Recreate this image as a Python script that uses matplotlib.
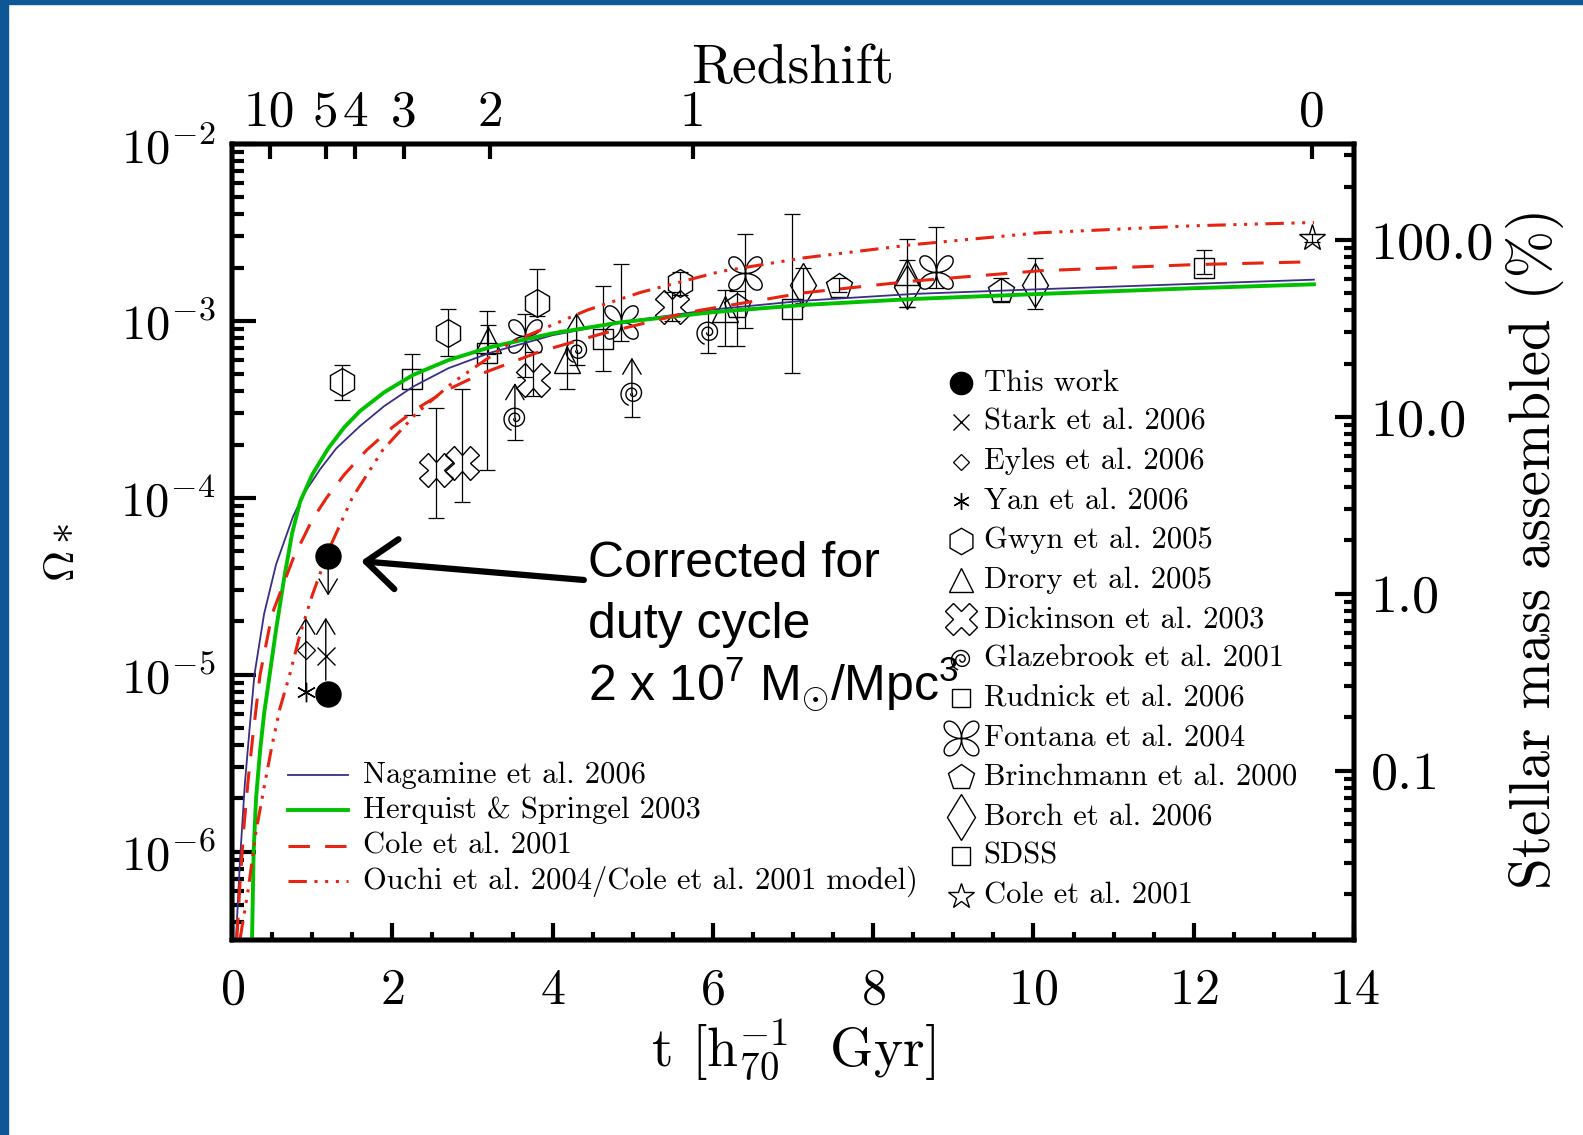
import numpy as np
import matplotlib
matplotlib.use('Agg')
import matplotlib.pyplot as plt
from matplotlib.path import Path
from matplotlib.patches import Rectangle
from matplotlib.ticker import FixedLocator, FixedFormatter, NullFormatter, LogLocator

plt.rcParams['font.family'] = ['cmr10', 'DejaVu Serif']
plt.rcParams['mathtext.fontset'] = 'cm'
plt.rcParams['axes.formatter.use_mathtext'] = True
plt.rcParams['mathtext.rm'] = 'Liberation Sans'
plt.rcParams['mathtext.it'] = 'Liberation Sans:italic'
plt.rcParams['mathtext.bf'] = 'Liberation Sans:bold'

# ---- model curves (t in Gyr, Omega_*) ----
t_nag = [0.05, 0.1, 0.16, 0.22, 0.28, 0.4, 0.55, 0.76, 0.9, 1.1, 1.3, 1.6, 1.9, 2.26, 2.7, 3.22, 4.0, 4.84,
         6.0, 7.13, 8.5, 10.08, 12.0, 13.5]
om_nag = [3.2e-7, 9e-7, 2.4e-6, 5e-6, 1e-5, 2.2e-5, 4.2e-5, 7.8e-5, 1.06e-4, 1.45e-4, 1.9e-4, 2.55e-4, 3.3e-4,
          4.25e-4, 5.4e-4, 6.6e-4, 8.3e-4, 9.8e-4, 1.16e-3, 1.30e-3, 1.42e-3, 1.51e-3, 1.62e-3, 1.71e-3]
t_hs = [0.25, 0.27, 0.3, 0.35, 0.4, 0.47, 0.55, 0.65, 0.75, 0.85, 1.0, 1.2, 1.4, 1.6, 1.9, 2.26, 2.7, 3.22, 4.0,
        4.84, 6.0, 7.13, 8.5, 10.08, 12.0, 13.5]
om_hs = [3.2e-7, 1e-6, 2e-6, 3.7e-6, 6e-6, 1e-5, 1.8e-5, 3.5e-5, 6.3e-5, 9.5e-5, 1.35e-4, 1.9e-4, 2.5e-4,
         3.1e-4, 3.95e-4, 4.95e-4, 6.0e-4, 7.1e-4, 8.5e-4, 9.8e-4, 1.12e-3, 1.23e-3, 1.33e-3, 1.42e-3,
         1.53e-3, 1.61e-3]
t_cole = [0.06, 0.1, 0.15, 0.2, 0.26, 0.35, 0.5, 0.76, 1.0, 1.18, 1.4, 1.68, 2.0, 2.31, 2.7, 3.1, 3.84, 4.63,
          5.7, 7.13, 8.5, 10.08, 12.0, 13.5]
om_cole = [3.2e-7, 6.6e-7, 1.4e-6, 2.5e-6, 4.5e-6, 1e-5, 2.2e-5, 4.5e-5, 7.5e-5, 1e-4, 1.35e-4, 1.86e-4,
           2.5e-4, 3.2e-4, 4.1e-4, 5.0e-4, 6.7e-4, 8.5e-4, 1.12e-3, 1.44e-3, 1.68e-3, 1.92e-3, 2.08e-3,
           2.16e-3]
t_ouchi = [0.1, 0.2, 0.3, 0.4, 0.5, 0.6, 0.72, 0.85, 1.0, 1.2, 1.5, 1.88, 2.3, 2.76, 3.47, 4.43, 5.1, 6.09,
           7.13, 8.5, 10.08, 12.0, 13.5]
om_ouchi = [3.2e-7, 6e-7, 1.3e-6, 2.3e-6, 4e-6, 6.5e-6, 1e-5, 1.7e-5, 2.8e-5, 5e-5, 1e-4, 1.86e-4, 3e-4,
            4.5e-4, 7.5e-4, 1.15e-3, 1.45e-3, 1.9e-3, 2.27e-3, 2.7e-3, 3.15e-3, 3.45e-3, 3.6e-3]

# ---- observations ----
this_t = [1.2, 1.2]
this_om = [4.67e-5, 7.8e-6]
this_lim = [2.8e-5, None]          # upper limit arrow on the first point

stark_t = [1.17]
stark_om = [1.28e-5]
stark_lo = [9.3e-6]
stark_lim = [2.1e-5]

eyles_t = [0.92]
eyles_om = [1.38e-5]

yan_t = [0.92]
yan_om = [8.0e-6]
yan_lim = [2.1e-5]

gwyn_t = [1.37, 2.69, 3.80, 5.59]
gwyn_om = [4.54e-4, 8.5e-4, 1.26e-3, 1.64e-3]
gwyn_lo = [3.55e-4, 6.3e-4, 1.06e-3, 1.40e-3]
gwyn_hi = [5.6e-4, 1.16e-3, 1.96e-3, 1.88e-3]

drory_t = [3.2, 4.18, 6.15, 8.42]
drory_om = [7.8e-4, 6.0e-4, 1.16e-3, 1.9e-3]
drory_lo = [6.5e-4, 4.1e-4, 7.2e-4, 1.2e-3]
drory_hi = [9.5e-4, 8.9e-4, 1.49e-3, 2.9e-3]

dick_t = [2.55, 2.87, 3.76, 5.49]
dick_om = [1.43e-4, 1.57e-4, 4.65e-4, 1.2e-3]
dick_lo = [7.7e-5, 9.5e-5, 3.77e-4, 1.0e-3]
dick_hi = [3.2e-4, 4.1e-4, 6.7e-4, 1.45e-3]

glaz_t = [3.53, 4.3, 4.99, 5.94]
glaz_om = [2.82e-4, 6.85e-4, 3.9e-4, 8.7e-4]
glaz_lo = [2.12e-4, 5.6e-4, 2.85e-4, 6.6e-4]
glaz_hi = [4.45e-4, 1.11e-3, 6.2e-4, 1.16e-3]
glaz_lolim = [True, True, True, False]

rud_t = [2.25, 3.18, 4.63, 6.99]
rud_om = [4.68e-4, 6.6e-4, 7.9e-4, 1.16e-3]
rud_lo = [2.94e-4, 1.44e-4, 5.2e-4, 5.1e-4]
rud_hi = [6.5e-4, 1.13e-3, 1.58e-3, 4.0e-3]

font_t = [3.66, 4.86, 6.4, 8.78]
font_om = [8.2e-4, 9.9e-4, 1.86e-3, 1.9e-3]
font_lo = [4.8e-4, 7.7e-4, 9.1e-4, 1.53e-3]
font_hi = [1.1e-3, 2.1e-3, 3.1e-3, 3.4e-3]

brin_t = [6.3, 7.58, 9.6]
brin_om = [1.21e-3, 1.57e-3, 1.47e-3]
brin_lo = [7.2e-4, 1.45e-3, 1.3e-3]
brin_hi = [1.47e-3, 1.75e-3, 1.75e-3]

borch_t = [7.13, 8.42, 10.02]
borch_om = [1.6e-3, 1.55e-3, 1.6e-3]
borch_lo = [1.26e-3, 1.2e-3, 1.16e-3]
borch_hi = [1.99e-3, 2.2e-3, 2.27e-3]

sdss_t = [12.13]
sdss_om = [1.98e-3]
sdss_lo = [1.85e-3]
sdss_hi = [2.5e-3]

cole_t = [13.48]
cole_om = [2.94e-3]
cole_lo = [2.8e-3]
cole_hi = [3.1e-3]

# redshift axis
z_labels = ['10', '5', '4', '3', '2', '1', '0']
t_at_z = [0.47, 1.17, 1.54, 2.14, 3.22, 5.75, 13.47]

# right axis: percentage of present-day stellar mass
omega_today = 2.87e-3
pct_ticks = [0.1, 1.0, 10.0, 100.0]
pct_labels = ['0.1', '1.0', '10.0', '100.0']

# ---- custom marker shapes ----
th = np.linspace(0, 4.4 * np.pi, 160)
r = 0.15 + th / (4.4 * np.pi)
spiral = Path(np.column_stack([r * np.cos(th + np.pi), r * np.sin(th + np.pi)]))
th2 = np.linspace(0, 2 * np.pi, 240)
r2 = np.abs(np.sin(2 * th2))
rose = Path(np.column_stack([r2 * np.cos(th2), r2 * np.sin(th2)]))

styles = {
    'this': dict(marker='o', ms=18, mfc='k', mec='k'),
    'stark': dict(marker='x', ms=13, mfc='none', mec='k', mew=1.0),
    'eyles': dict(marker='D', ms=9, mfc='none', mec='k', mew=0.9),
    'yan': dict(marker=(6, 2, 0), ms=14, mfc='none', mec='k', mew=1.0),
    'gwyn': dict(marker='h', ms=20, mfc='none', mec='k', mew=1.0),
    'drory': dict(marker='^', ms=19, mfc='none', mec='k', mew=1.0),
    'dick': dict(marker='X', ms=24, mfc='none', mec='k', mew=1.0),
    'glaz': dict(marker=spiral, ms=17, mfc='none', mec='k', mew=1.0),
    'rud': dict(marker='s', ms=15, mfc='none', mec='k', mew=1.0),
    'font': dict(marker=rose, ms=24, mfc='none', mec='k', mew=1.0),
    'brin': dict(marker='p', ms=19, mfc='none', mec='k', mew=1.0),
    'borch': dict(marker='d', ms=22, mfc='none', mec='k', mew=1.0),
    'sdss': dict(marker='s', ms=15, mfc='none', mec='k', mew=1.0),
    'cole': dict(marker='*', ms=20, mfc='none', mec='k', mew=1.0),
}

fig = plt.figure(figsize=(15.83, 11.35), dpi=100)
fig.patch.set_facecolor('white')
ax = fig.add_axes([0.14656, 0.17181, 0.70878, 0.70132])

ax.set_yscale('log')
ax.set_xlim(0, 14)
ax.set_ylim(10 ** -6.5, 1e-2)

# model curves
ax.plot(t_nag, om_nag, color='#3a2d85', lw=1.3, zorder=4)
ax.plot(t_hs, om_hs, color='#00c000', lw=2.8, zorder=4)
ax.plot(t_cole, om_cole, color='#e8230f', lw=2.2, ls=(0, (7, 5)), zorder=4)
ax.plot(t_ouchi, om_ouchi, color='#e8230f', lw=2.2, ls=(0, (6, 2.5, 1, 2.5, 1, 2.5, 1, 2.5)), zorder=4)


def errs(t, om, lo, hi, key):
    om = np.array(om)
    yerr = [om - np.array(lo), np.array(hi) - om]
    ax.errorbar(t, om, yerr=yerr, fmt='none', ecolor='k', elinewidth=0.9, capsize=6, capthick=0.9, zorder=3)
    ax.plot(t, om, ls='none', zorder=3, **styles[key])


errs(gwyn_t, gwyn_om, gwyn_lo, gwyn_hi, 'gwyn')
errs(drory_t, drory_om, drory_lo, drory_hi, 'drory')
errs(dick_t, dick_om, dick_lo, dick_hi, 'dick')
errs(rud_t, rud_om, rud_lo, rud_hi, 'rud')
errs(font_t, font_om, font_lo, font_hi, 'font')
errs(brin_t, brin_om, brin_lo, brin_hi, 'brin')
errs(borch_t, borch_om, borch_lo, borch_hi, 'borch')
errs(sdss_t, sdss_om, sdss_lo, sdss_hi, 'sdss')
errs(cole_t, cole_om, cole_lo, cole_hi, 'cole')

arrow_kw = dict(arrowstyle='->,head_length=0.5,head_width=0.3', color='k', lw=1.0,
                mutation_scale=22, shrinkA=0, shrinkB=0)

for t, om, lo, hi, lim in zip(glaz_t, glaz_om, glaz_lo, glaz_hi, glaz_lolim):
    if lim:
        ax.plot([t, t], [lo, om], color='k', lw=0.9, zorder=3)
        ax.plot([t], [lo], marker='_', ms=12, mew=0.9, color='k', zorder=3)
        ax.annotate('', xy=(t, hi), xytext=(t, om), arrowprops=arrow_kw, zorder=3)
    else:
        ax.errorbar([t], [om], yerr=[[om - lo], [hi - om]], fmt='none', ecolor='k', elinewidth=0.9,
                    capsize=6, capthick=0.9, zorder=3)
ax.plot(glaz_t, glaz_om, ls='none', zorder=3, **styles['glaz'])

# high redshift limits
ax.plot(eyles_t, eyles_om, ls='none', zorder=3, **styles['eyles'])
ax.plot(yan_t, yan_om, ls='none', zorder=3, **styles['yan'])
for t, om, lim in zip(yan_t, yan_om, yan_lim):
    ax.annotate('', xy=(t, lim), xytext=(t, om), arrowprops=arrow_kw, zorder=3)
ax.plot(stark_t, stark_om, ls='none', zorder=3, **styles['stark'])
for t, lo, lim in zip(stark_t, stark_lo, stark_lim):
    ax.annotate('', xy=(t, lim), xytext=(t, lo), arrowprops=arrow_kw, zorder=3)
ax.plot(this_t, this_om, ls='none', zorder=5, **styles['this'])
for t, om, lim in zip(this_t, this_om, this_lim):
    if lim is not None:
        ax.annotate('', xy=(t, lim), xytext=(t, om), arrowprops=arrow_kw, zorder=3)

# annotation
ax.annotate('', xy=(1.61, 4.38e-5), xytext=(4.39, 3.43e-5),
            arrowprops=dict(arrowstyle='->,head_length=0.55,head_width=0.45', color='k', lw=4.5,
                            mutation_scale=40, shrinkA=0, shrinkB=0), zorder=6)
note_lines = ['Corrected for', 'duty cycle', '2 x 10$^{\\mathrm{7}}$ M$_{\\odot}$/Mpc$^{\\mathrm{3}}$']
note_base = [3.58e-5, 1.61e-5, 7.2e-6]
for txt, yb in zip(note_lines, note_base):
    ax.text(4.44, yb, txt, family='Liberation Sans', fontsize=36, ha='left', va='baseline',
            math_fontfamily='custom', zorder=6)

# left legend (model lines)
model_lines = [
    ('Nagamine et al. 2006', dict(color='#3a2d85', lw=1.3)),
    ('Herquist & Springel 2003', dict(color='#00c000', lw=2.8)),
    ('Cole et al. 2001', dict(color='#e8230f', lw=2.2, ls=(0, (7, 5)))),
    ('Ouchi et al. 2004/Cole et al. 2001 model)', dict(color='#e8230f', lw=2.2,
                                                       ls=(0, (6, 2.5, 1, 2.5, 1, 2.5, 1, 2.5)))),
]
for i, (lab, kw) in enumerate(model_lines):
    yy = 0.207 - i * 0.0443
    ax.plot([0.050, 0.103], [yy, yy], transform=ax.transAxes, clip_on=False, **kw)
    ax.text(0.117, yy, lab, transform=ax.transAxes, fontsize=22, va='center', ha='left')

# right legend (data symbols)
obs_legend = [
    ('This work', 'this', 16), ('Stark et al. 2006', 'stark', 12), ('Eyles et al. 2006', 'eyles', 8),
    ('Yan et al. 2006', 'yan', 12), ('Gwyn et al. 2005', 'gwyn', 19), ('Drory et al. 2005', 'drory', 17),
    ('Dickinson et al. 2003', 'dick', 23), ('Glazebrook et al. 2001', 'glaz', 15),
    ('Rudnick et al. 2006', 'rud', 13), ('Fontana et al. 2004', 'font', 25),
    ('Brinchmann et al. 2000', 'brin', 19), ('Borch et al. 2006', 'borch', 23), ('SDSS', 'sdss', 13),
    ('Cole et al. 2001', 'cole', 19),
]
for i, (lab, key, ms) in enumerate(obs_legend):
    yy = 0.700 - i * 0.04955
    st = dict(styles[key])
    st['ms'] = ms
    ax.plot([0.6497], [yy], transform=ax.transAxes, clip_on=False, zorder=6, **st)
    ax.text(0.670, yy, lab, transform=ax.transAxes, fontsize=22, va='center', ha='left')

# axes styling
for sp in ax.spines.values():
    sp.set_linewidth(3.2)
ax.xaxis.set_major_locator(FixedLocator(np.arange(0, 15, 2)))
ax.xaxis.set_minor_locator(FixedLocator(np.arange(0, 14.01, 0.5)))
ax.yaxis.set_major_locator(LogLocator(base=10, numticks=20))
ax.yaxis.set_minor_locator(LogLocator(base=10, subs=np.arange(2, 10), numticks=20))
ax.yaxis.set_minor_formatter(NullFormatter())
ax.tick_params(axis='x', which='major', direction='in', length=12, width=3, labelsize=36, pad=20,
               top=False)
ax.tick_params(axis='x', which='minor', direction='in', length=6, width=3, top=False)
ax.tick_params(axis='y', which='major', direction='in', length=17, width=3, labelsize=35, pad=12,
               right=False)
ax.tick_params(axis='y', which='minor', direction='in', length=8.5, width=3, right=False)

# top redshift axis
axt = ax.twiny()
axt.set_xlim(ax.get_xlim())
axt.xaxis.set_major_locator(FixedLocator(t_at_z))
axt.xaxis.set_major_formatter(FixedFormatter(z_labels))
axt.xaxis.set_minor_locator(FixedLocator([]))
axt.tick_params(axis='x', which='major', direction='in', length=11, width=3, labelsize=37, pad=6)
for sp in axt.spines.values():
    sp.set_linewidth(3.2)

# right percentage axis
axr = ax.twinx()
axr.set_yscale('log')
axr.set_ylim(10 ** -6.5 / omega_today * 100, 1e-2 / omega_today * 100)
axr.yaxis.set_major_locator(FixedLocator(pct_ticks))
axr.yaxis.set_major_formatter(FixedFormatter(pct_labels))
axr.yaxis.set_minor_locator(LogLocator(base=10, subs=np.arange(2, 10), numticks=20))
axr.yaxis.set_minor_formatter(NullFormatter())
axr.tick_params(axis='y', which='major', direction='in', length=14, width=3, labelsize=39, pad=12)
axr.tick_params(axis='y', which='minor', direction='in', length=7, width=3)
for sp in axr.spines.values():
    sp.set_linewidth(3.2)

# axis labels
fig.text(793 / 1583, 1 - 69 / 1135, 'Redshift', fontsize=40, ha='center', va='center')
fig.text(793 / 1583, 1 - 1050 / 1135, r't [h$_{70}^{-1}$  Gyr]', fontsize=40, ha='center', va='center')
fig.text(63 / 1583, 1 - 552 / 1135, r'$\Omega*$', fontsize=31, ha='center', va='center', rotation=90)
fig.text(1535 / 1583, 1 - 548 / 1135, 'Stellar mass assembled (%)', fontsize=41, ha='center',
         va='center', rotation=90)

# slide background edges
fig.add_artist(Rectangle((0, 0), 8 / 1583, 1, transform=fig.transFigure, color='#0d5796', zorder=0))
fig.add_artist(Rectangle((0, 1 - 4 / 1135), 1, 4 / 1135, transform=fig.transFigure, color='#0d5796',
                         zorder=0))

fig.savefig('out.png', dpi=100, facecolor='white')
